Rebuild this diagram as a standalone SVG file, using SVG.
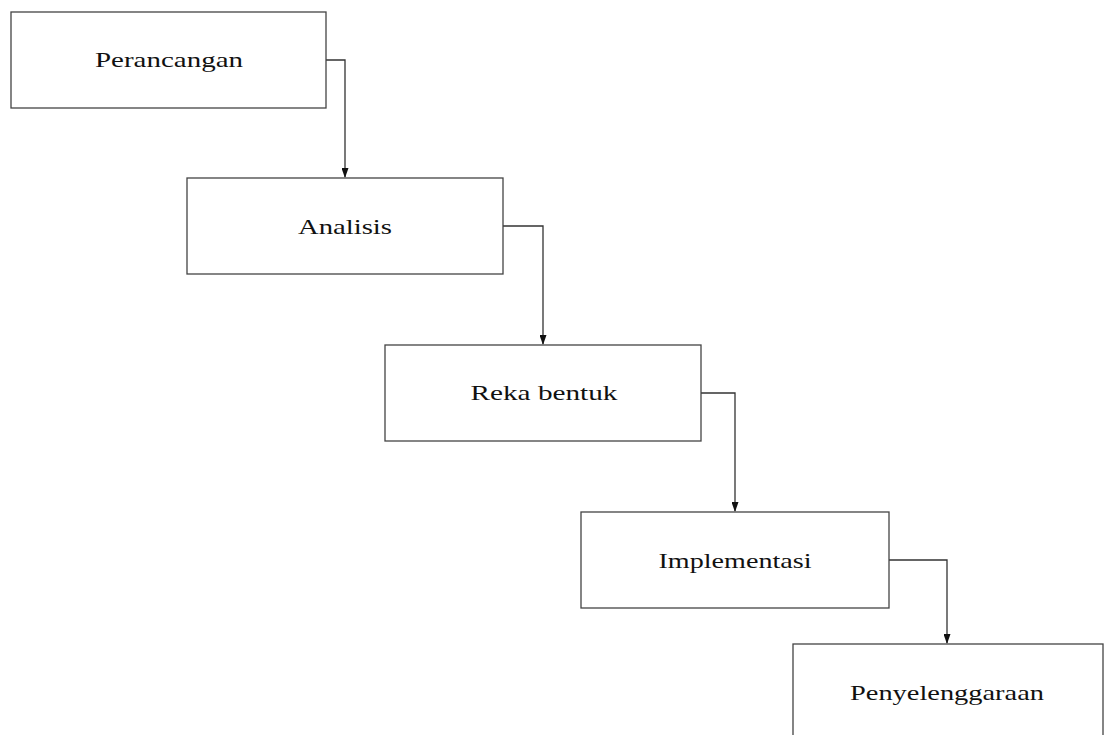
<svg xmlns="http://www.w3.org/2000/svg" width="1105" height="735" viewBox="0 0 1105 735">
<style>
.box{fill:#fff;stroke:#444;stroke-width:1.3}
.lbl{font-family:"Liberation Serif","Times New Roman",serif;font-size:22px;fill:#111;text-anchor:middle}
.con{fill:none;stroke:#333;stroke-width:1.3}
</style>
<defs>
<marker id="ah" markerWidth="10" markerHeight="7" refX="9" refY="3.5" orient="auto" markerUnits="userSpaceOnUse">
<path d="M0,0 L10,3.5 L0,7 Z" fill="#111"/>
</marker>
</defs>
<rect width="1105" height="735" fill="#fff"/>
<g id="connectors">
<path class="con" d="M326,60 H345 V177" marker-end="url(#ah)"/>
<path class="con" d="M503,226 H543 V344" marker-end="url(#ah)"/>
<path class="con" d="M701,393 H735 V511" marker-end="url(#ah)"/>
<path class="con" d="M889,560 H947 V643" marker-end="url(#ah)"/>
</g>
<g id="n1"><rect class="box" x="11" y="12" width="315" height="96"/><text class="lbl" x="169" y="67" textLength="148" lengthAdjust="spacingAndGlyphs">Perancangan</text></g>
<g id="n2"><rect class="box" x="187" y="178" width="316" height="96"/><text class="lbl" x="345" y="234" textLength="94" lengthAdjust="spacingAndGlyphs">Analisis</text></g>
<g id="n3"><rect class="box" x="385" y="345" width="316" height="96"/><text class="lbl" x="544" y="400" textLength="147" lengthAdjust="spacingAndGlyphs">Reka bentuk</text></g>
<g id="n4"><rect class="box" x="581" y="512" width="308" height="96"/><text class="lbl" x="735" y="568" textLength="153" lengthAdjust="spacingAndGlyphs">Implementasi</text></g>
<g id="n5"><rect class="box" x="793" y="644" width="310" height="100"/><text class="lbl" x="947" y="700" textLength="194" lengthAdjust="spacingAndGlyphs">Penyelenggaraan</text></g>
</svg>
